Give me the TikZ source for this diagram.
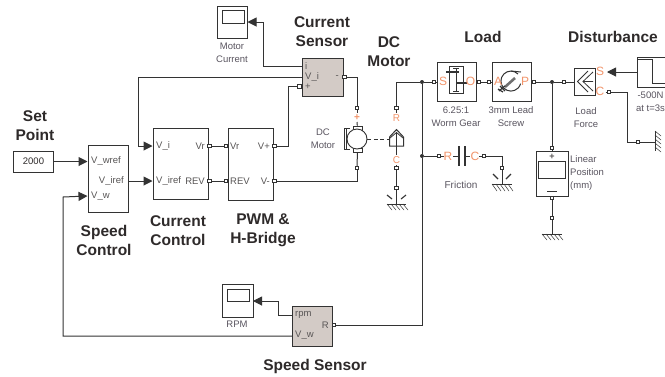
\documentclass[tikz,border=0pt]{standalone}
\usepackage{fontspec}
\setmainfont{Liberation Sans}
\usetikzlibrary{arrows.meta,positioning}
\definecolor{wirecol}{HTML}{333333}
\definecolor{textcol}{HTML}{5A5560}
\definecolor{titlecol}{HTML}{2E2A2A}
\definecolor{portcol}{HTML}{F2946A}
\definecolor{sensorcol}{HTML}{D3CBC6}
\tikzset{
  wire/.style={draw=wirecol,line width=1pt},
  sig/.style={wire,-{Triangle[length=9pt,width=9pt]},shorten >=0pt},
  block/.style={draw=wirecol,line width=1pt,rectangle,inner sep=0pt,fill=white},
  screen/.style={block,line width=0.8pt},
  sensor/.style={block,fill=sensorcol},
  port/.style={draw=wirecol,line width=0.9pt,fill=white,rectangle,inner sep=0pt,minimum size=3.2pt},
  dot/.style={circle,fill=wirecol,inner sep=0pt,minimum size=4pt},
  title/.style={font=\fontsize{15.5}{19}\selectfont\bfseries,text=titlecol,align=center,inner sep=0pt},
  small/.style={font=\fontsize{9.5}{13}\selectfont,text=textcol,align=center,inner sep=0pt},
  lbl/.style={font=\fontsize{9.5}{12}\selectfont,text=titlecol!80,inner sep=0pt},
  plbl/.style={font=\fontsize{12}{12}\selectfont,text=portcol,inner sep=0pt},
  hatch/.style={draw=wirecol,line width=0.5pt},
}
\begin{document}
\begin{tikzpicture}[x=1pt,y=-1pt]
  \useasboundingbox[fill=white] (0,0) rectangle (665,376);

  % titles
  \node[title] (t_set) at (35,126) {Set\\Point};
  \node[title] (t_speed) at (104,240) {Speed\\Control};
  \node[title] (t_cur) at (178,230.5) {Current\\Control};
  \node[title] (t_pwm) at (263,230.5) {PWM \&\\H-Bridge};
  \node[title] (t_sens) at (322,31.5) {Current\\Sensor};
  \node[title] (t_dc) at (389,51.5) {DC\\Motor};
  \node[title] (t_load) at (483,37) {Load};
  \node[title] (t_dist) at (613,37) {Disturbance};
  \node[title] (t_ssens) at (315,366) {Speed Sensor};

  % control blocks
  \node[block,minimum width=40pt,minimum height=21pt,font=\fontsize{9.5}{12}\selectfont,text=titlecol] (setpoint) at (33.5,161.5) {2000};
  \node[block,minimum width=40pt,minimum height=67pt] (speedctrl) at (108,178.5) {};
  \node[block,minimum width=55pt,minimum height=71pt] (curctrl) at (180.5,163.5) {};
  \node[block,minimum width=45pt,minimum height=72pt] (pwm) at (250.5,164) {};
  \node[sensor,minimum width=41pt,minimum height=38pt] (cursens) at (322.5,77) {};
  \node[sensor,minimum width=40pt,minimum height=40pt] (spdsens) at (312,326) {};

  % scopes
  \node[block,minimum width=30pt,minimum height=32pt] (scope_i) at (232.5,22) {};
  \node[screen,minimum width=22pt,minimum height=13pt] (screen_i) at (233,16.5) {};
  \node[block,minimum width=31pt,minimum height=33pt] (scope_w) at (237.5,300.5) {};
  \node[screen,minimum width=22pt,minimum height=12pt] (screen_w) at (238,295) {};
  \node[small] (l_mc) at (232,52.5) {Motor\\Current};
  \node[small] (l_rpm) at (237,324) {RPM};

  % port names
  \node[lbl,anchor=west] (p1) at (91,161) {V\_wref};
  \node[lbl,anchor=east] (p2) at (124,181) {V\_iref};
  \node[lbl,anchor=west] (p3) at (91,196) {V\_w};
  \node[lbl,anchor=west] (p4) at (156,146) {V\_i};
  \node[lbl,anchor=west] (p5) at (156,181) {V\_iref};
  \node[lbl,anchor=east] (p6) at (205,146) {Vr};
  \node[lbl,anchor=east] (p7) at (205,181) {REV};
  \node[lbl,anchor=west] (p8) at (230,146) {Vr};
  \node[lbl,anchor=west] (p9) at (230,181) {REV};
  \node[lbl,anchor=east] (p10) at (270,146) {V+};
  \node[lbl,anchor=east] (p11) at (270,181) {V-};
  \node[lbl,anchor=west] (p12) at (305,66) {i};
  \node[lbl,anchor=west] (p13) at (305,77) {V\_i};
  \node[lbl,anchor=west] (p14) at (305,87) {+};
  \node[lbl,anchor=east] (p15) at (339,77) {-};
  \node[lbl,anchor=west] (p16) at (295,315) {rpm};
  \node[lbl,anchor=east] (p17) at (329,325) {R};
  \node[lbl,anchor=west] (p18) at (295,335) {V\_w};

  % control ports
  \node[port] (vr_o) at (209.5,146) {};
  \node[port] (vr_i) at (226,146) {};
  \node[port] (rev_o) at (209.5,181) {};
  \node[port] (rev_i) at (226,181) {};
  \node[port] (vp_o) at (274.5,146) {};
  \node[port] (vm_o) at (274.5,181) {};
  \node[port] (sp_i) at (299.5,86.5) {};
  \node[port] (sm_o) at (344.5,77) {};
  \node[port] (m_p) at (357,108) {};
  \node[port] (m_m) at (357,168) {};
  \node[port] (r_o) at (334,325) {};
  \coordinate (i_in) at (247.5,22);
  \coordinate (w_in) at (253,301);
  \coordinate (w_out) at (292,336);

  % signals
  \draw[sig] (setpoint) -- (speedctrl.west |- setpoint);
  \draw[sig] (speedctrl.east |- p2) -- (curctrl.west |- p2);
  \draw[sig] (cursens.west |- p13) -| (138,146) -- (curctrl.west |- p4);
  \draw[sig] (cursens.west |- p12) -| (263,22) -- (i_in);
  \draw[sig] (spdsens.west |- p16) -| (278,301) -- (w_in);
  \draw[sig] (w_out) -| (63,197) -- (speedctrl.west |- p3);
  \draw[wire] (vr_o) -- (vr_i);
  \draw[wire] (rev_o) -- (rev_i);
  \draw[wire] (vp_o) -| (288,86.5) -- (sp_i);
  \draw[wire] (vm_o) -| (m_m);
  \draw[wire] (sm_o) -| (m_p);

  % motor
  \node[port,minimum width=9pt,minimum height=4pt] (brush_t) at (357.5,128) {};
  \node[port,minimum width=9pt,minimum height=4pt] (brush_b) at (357.5,150) {};
  \node[circle,draw=wirecol,line width=0.9pt,fill=white,minimum size=20pt,inner sep=0pt] (motor) at (357,139) {};
  \draw[wire] (350,128.5) -- (344.5,128.5) -- (344.5,149) -- (350,149);
  \draw[wire] (346.5,129) -- (346.5,148.5);
  \draw[wire] (m_p) -- (357,113);
  \draw[wire] (357,122) -- (brush_t);
  \draw[wire] (m_m) -- (brush_b);
  \node[plbl,font=\fontsize{10}{10}\selectfont\bfseries] (l_mp) at (357,118) {+};
  \node[small] (l_dcm) at (323,138.5) {DC\\Motor};

  % shaft sensor
  \draw[wire,fill=white] (389.5,146) -- (389.5,137) -- (396.5,129.5) -- (403.5,137) -- (403.5,146) -- cycle;
  \coordinate (sh_l) at (389.5,139);
  \draw[wire,line width=0.8pt] (390,138) -- (396.5,132.5) -- (403,138);
  \draw[wire,line width=0.8pt] (396.5,146) -- (396.5,133);
  \draw[wire,line width=0.8pt,dash pattern=on 4pt off 2.5pt] (motor) -- (sh_l);
  \node[plbl,font=\fontsize{10}{10}\selectfont] (l_shr) at (396.5,118) {R};
  \node[plbl,font=\fontsize{10}{10}\selectfont] (l_shc) at (396.5,160) {C};
  \node[port] (sh_t) at (396.5,108) {};
  \node[port] (sh_b) at (396.5,168) {};
  \node[port] (sh_g) at (396.5,188) {};
  \draw[wire] (sh_t) -- (396.5,113) (sh_b) -- (396.5,165) (396.5,155) -- (396.5,146) (sh_b) -- (sh_g) -- (396.5,204);
  \draw[wire,line width=1.1pt] (387,195) -- (392,199) (406,195) -- (401,199);
  \draw[wire] (387,204) -- (406,204);
  \foreach \x in {387,391,...,405} \draw[hatch] (\x,204) -- (\x+5,210);

  % load side
  \node[block,minimum width=39pt,minimum height=39pt] (gear) at (456.5,81.5) {};
  \node[block,minimum width=39pt,minimum height=39pt] (screw) at (511.5,81.5) {};
  \node[block,minimum width=21pt,minimum height=27pt] (lforce) at (584.5,81.5) {};
  \node[block,minimum width=32pt,minimum height=45pt] (lpos) at (552,173.5) {};
  \node[screen,minimum width=27pt,minimum height=17pt] (lpos_d) at (551.5,169.5) {};
  \node[block,minimum width=40pt,minimum height=30pt] (step) at (657,72) {};
  \draw[wire] (637,59) -- (652,59) -- (652,83) -- (670,83);

  % gear box glyph
  \draw[wire,line width=0.8pt] (449,66) -- (449,93) -- (463,93) -- (463,66) -- cycle;
  \draw[wire,line width=0.8pt] (456,68) -- (456,91) (453,68) -- (459,68) (453,91) -- (459,91);
  \draw[wire,line width=1.6pt] (446,72) -- (459,72);
  \draw[wire,line width=1.6pt] (457,83) -- (467,83);
  \node[plbl] (g_s) at (443,81) {S};
  \node[plbl] (g_o) at (470.5,81) {O};

  % lead screw glyph
  \draw[wire] (518,74) arc[start angle=-45,end angle=-345,radius=10];
  \draw[wire] (511,71) -- (521,72);
  \draw[wire,line width=2.6pt,draw=wirecol!70] (515,78) -- (505,87);
  \draw[wire,line width=1.2pt] (505,86) -- (499,91) (500,86) -- (505,91) (498,89) -- (503,92);
  \node[plbl] (s_a) at (498,81) {A};
  \node[plbl] (s_p) at (525,81) {P};

  % force glyph
  \draw[wire,line width=0.8pt] (593,81.5) -- (583,81.5) (588,71) -- (577.5,81.5) -- (588,92) (593,72) -- (583,81.5) -- (593,91);
  \node[plbl] (f_s) at (600,71) {S};
  \node[plbl] (f_c) at (600,91) {C};

  % load ports
  \node[dot] (j1) at (422,82) {};
  \node[dot] (j2) at (422,156) {};
  \node[dot] (j3) at (552,82) {};
  \node[port] (gp_i) at (434,82) {};
  \node[port] (gp_o) at (479,82) {};
  \node[port] (sp_a) at (489,82) {};
  \node[port] (sp_p) at (534,82) {};
  \node[port] (lf_i) at (564,82) {};
  \node[port] (lf_c) at (609,92) {};
  \node[port] (lp_t) at (552,148) {};
  \node[port] (lp_b) at (552,198) {};
  \node[port] (lp_g) at (552,218) {};
  \node[port] (fr_r) at (439,156) {};
  \node[port] (fr_c) at (484,156) {};
  \node[port] (fr_g) at (502,168) {};
  \node[port] (dg) at (638,142) {};
  \coordinate (f_in) at (607,72);
  \coordinate (f_out) at (605.5,92);

  \draw[wire] (sh_t) |- (j1);
  \draw[wire] (j1) -- (gp_i) -- (gear.west |- gp_i);
  \draw[wire] (gear.east |- gp_o) -- (gp_o) -- (sp_a) -- (screw.west |- sp_a);
  \draw[wire] (screw.east |- sp_p) -- (sp_p) -- (j3) -- (lf_i) -- (lforce.west |- lf_i);
  \draw[wire] (j1) -- (j2);
  \draw[wire] (r_o) -| (j2);
  \draw[wire] (spdsens.east |- r_o) -- (r_o);
  \draw[wire] (j2) -- (fr_r) -- (444,156);
  \draw[wire] (479,156) -- (fr_c) -| (fr_g);
  \draw[wire] (j3) -- (lp_t) -- (lpos.north);
  \draw[wire] (lpos.south) -- (lp_b) -- (lp_g) -- (552,234);
  \draw[sig] (step.west) -- (f_in);
  \draw[wire] (f_out) -- (lf_c) -| (627,142) -- (dg) -- (655,142);

  % friction
  \draw[wire,line width=1.6pt] (459,146) -- (459,166) (465,146) -- (465,166);
  \draw[wire] (453,156) -- (459,156) (465,156) -- (470,156);
  \node[plbl] (fr_lr) at (448,156) {R};
  \node[plbl] (fr_lc) at (475,156) {C};
  \node[small,font=\fontsize{10}{12}\selectfont] (l_fr) at (461,185) {Friction};

  % grounds
  \draw[wire] (fr_g) -- (502,184);
  \draw[wire,line width=1.1pt] (493,174) -- (498,179) (511,174) -- (506,179);
  \draw[wire] (492,184) -- (512,184);
  \foreach \x in {492,496,...,508} \draw[hatch] (\x,184) -- (\x+5,191);
  \draw[wire] (542,234) -- (562,234);
  \foreach \x in {542,546,...,558} \draw[hatch] (\x,234) -- (\x+5,240);
  \draw[wire] (655,131) -- (655,151);
  \foreach \y in {131,135,...,147} \draw[hatch] (655,\y) -- (661,\y+5);

  % load labels
  \node[small] (l_gear) at (456,116.5) {6.25:1\\Worm Gear};
  \node[small] (l_screw) at (511,116.5) {3mm Lead\\Screw};
  \node[small] (l_force) at (586,117.5) {Load\\Force};
  \node[small] (l_step) at (650.5,101.5) {-500N\\at t=3s};
  \node[small,align=left,anchor=north west] (l_pos) at (570,155) {Linear\\Position\\(mm)};
  \node[lbl,font=\fontsize{9}{9}\selectfont\bfseries] (l_pl) at (552,157) {+};
  \draw[wire] (547,191) -- (557,191);
\end{tikzpicture}
\end{document}
